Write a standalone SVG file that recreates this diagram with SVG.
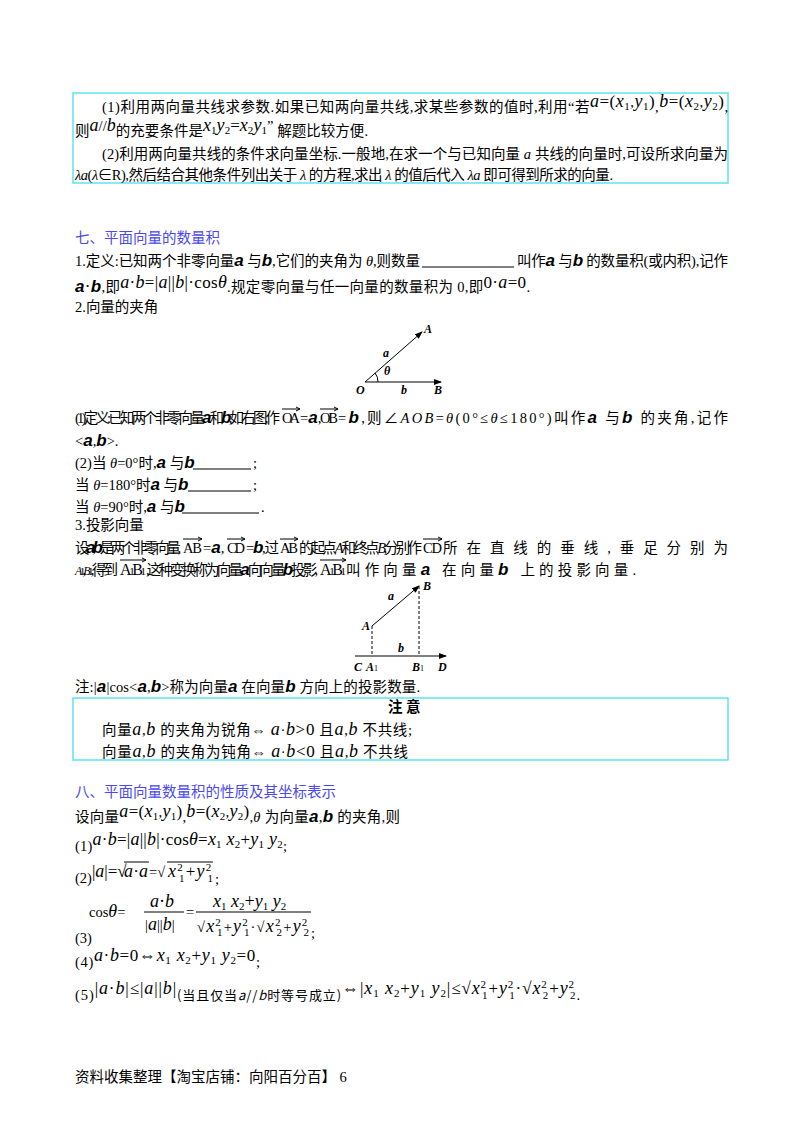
<svg xmlns="http://www.w3.org/2000/svg" width="800" height="1132" viewBox="0 0 800 1132">
<defs>
<marker id="ar" markerWidth="8" markerHeight="6" refX="7" refY="3" orient="auto" markerUnits="userSpaceOnUse"><path d="M0,0 L8,3 L0,6 Z" fill="#000"/></marker>
</defs>
<style>
text{font-family:"Liberation Serif","Noto Sans CJK SC",serif;font-size:14.5px;fill:#000}
.h{font-family:"Noto Sans CJK SC",sans-serif;font-size:14.5px;fill:#4a4af0}
.m{font-family:"Liberation Serif",serif;font-style:italic;font-size:18px}
.v{font-family:"Liberation Sans",sans-serif;font-style:italic;font-weight:bold;font-size:17px}
.s{font-size:11px}
.box{fill:none;stroke:#5fe3ee;stroke-width:1.5}
.ln{stroke:#000;stroke-width:1}
.fl{font-family:"Liberation Serif",serif;font-style:italic;font-weight:bold;font-size:12px}
.va{stroke:#000;fill:none;stroke-width:1}
</style>
<rect class="box" x="73" y="93" width="655" height="90"/>
<text x="102" y="112" textLength="626">(1)利用两向量共线求参数.如果已知两向量共线,求某些参数的值时,利用“若<tspan class="m" dy="-5">a</tspan><tspan font-size="17">=(</tspan><tspan class="m">x</tspan><tspan class="s" dy="3">1</tspan><tspan dy="-3">,</tspan><tspan class="m">y</tspan><tspan class="s" dy="3">1</tspan><tspan dy="-3" font-size="17">)</tspan><tspan dy="5">,</tspan><tspan class="m" dy="-5">b</tspan><tspan font-size="17">=(</tspan><tspan class="m">x</tspan><tspan class="s" dy="3">2</tspan><tspan dy="-3">,</tspan><tspan class="m">y</tspan><tspan class="s" dy="3">2</tspan><tspan dy="-3" font-size="17">)</tspan><tspan dy="5">,</tspan></text>
<text x="75" y="136" textLength="293">则<tspan class="m" dy="-5">a</tspan><tspan>//</tspan><tspan class="m">b</tspan><tspan dy="5">的充要条件是</tspan><tspan class="m" dy="-5">x</tspan><tspan class="s" dy="3">1</tspan><tspan class="m" dy="-3">y</tspan><tspan class="s" dy="3">2</tspan><tspan dy="-3" font-size="17">=</tspan><tspan class="m">x</tspan><tspan class="s" dy="3">2</tspan><tspan class="m" dy="-3">y</tspan><tspan class="s" dy="3">1</tspan><tspan dy="-3">”</tspan><tspan dy="5"> 解题比较方便.</tspan></text>
<text x="102" y="159" textLength="626">(2)利用两向量共线的条件求向量坐标.一般地,在求一个与已知向量 <tspan font-style="italic">a</tspan> 共线的向量时,可设所求向量为</text>
<text x="75" y="180" textLength="538"><tspan font-style="italic">λa</tspan>(<tspan font-style="italic">λ</tspan>∈R),然后结合其他条件列出关于 <tspan font-style="italic">λ</tspan> 的方程,求出 <tspan font-style="italic">λ</tspan> 的值后代入 <tspan font-style="italic">λa</tspan> 即可得到所求的向量.</text>

<text class="h" x="75" y="243">七、平面向量的数量积</text>
<text x="75" y="266" textLength="345">1.定义:已知两个非零向量<tspan class="v">a</tspan> 与<tspan class="v">b</tspan>,它们的夹角为 <tspan font-style="italic">θ</tspan>,则数量</text>
<line class="ln" x1="422" y1="267" x2="514" y2="267"/>
<text x="517" y="266" textLength="211">叫作<tspan class="v">a</tspan> 与<tspan class="v">b</tspan> 的数量积(或内积),记作</text>
<text x="75" y="292" textLength="455"><tspan class="v">a</tspan><tspan font-size="17">·</tspan><tspan class="v">b</tspan>,即<tspan class="m" dy="-4">a</tspan><tspan font-size="17">·</tspan><tspan class="m">b</tspan><tspan font-size="17">=|</tspan><tspan class="m">a</tspan><tspan font-size="17">||</tspan><tspan class="m">b</tspan><tspan font-size="17">|·cos</tspan><tspan class="m">θ</tspan><tspan dy="4">.规定零向量与任一向量的数量积为 0,即</tspan><tspan font-size="17" dy="-4">0·</tspan><tspan class="m">a</tspan><tspan font-size="17">=0</tspan><tspan dy="4">.</tspan></text>
<text x="75" y="312">2.向量的夹角</text>

<g id="fig1">
<line class="ln" x1="365" y1="382" x2="422" y2="332" marker-end="url(#ar)"/>
<line class="ln" x1="365" y1="382" x2="441" y2="382" marker-end="url(#ar)"/>
<path d="M378,382 A13,13 0 0 0 375,373" fill="none" stroke="#000"/>
<text class="fl" x="424" y="333">A</text>
<text class="fl" x="434" y="394">B</text>
<text class="fl" x="356" y="394">O</text>
<text class="fl" x="383" y="357">a</text>
<text class="fl" x="401" y="394">b</text>
<text class="fl" x="384" y="375" font-size="11">θ</text>
</g>

<text x="75" y="423" textLength="205">(1)定义:已知两个非零向量<tspan class="v">a</tspan> 和<tspan class="v">b</tspan>,如右图,作</text>
<text x="282" y="423" font-size="16" textLength="18">OA</text>
<text x="300" y="423">=<tspan class="v">a</tspan>,</text>
<text x="320" y="423" font-size="16" textLength="18">OB</text>
<text x="338" y="423" textLength="390">=<tspan class="v">b</tspan>,则∠<tspan font-style="italic">AOB</tspan>=<tspan font-style="italic">θ</tspan>(0°≤<tspan font-style="italic">θ</tspan>≤180°)叫作<tspan class="v">a</tspan> 与<tspan class="v">b</tspan> 的夹角,记作</text>
<path class="va" d="M282,409 H300 M296,407 L300,409 L296,411 M320,409 H338 M334,407 L338,409 L334,411"/>
<text x="75" y="446">&lt;<tspan class="v">a</tspan>,<tspan class="v">b</tspan>&gt;.</text>
<text x="75" y="468">(2)当 <tspan font-style="italic">θ</tspan>=0°时,<tspan class="v">a</tspan> 与<tspan class="v">b</tspan></text>
<line class="ln" x1="193" y1="469" x2="251" y2="469"/><text x="253" y="468">;</text>
<text x="75" y="490">当 <tspan font-style="italic">θ</tspan>=180°时<tspan class="v">a</tspan> 与<tspan class="v">b</tspan></text>
<line class="ln" x1="188" y1="491" x2="251" y2="491"/><text x="253" y="490">;</text>
<text x="75" y="512">当 <tspan font-style="italic">θ</tspan>=90°时,<tspan class="v">a</tspan> 与<tspan class="v">b</tspan></text>
<line class="ln" x1="182" y1="513" x2="259" y2="513"/><text x="261" y="512">.</text>
<text x="75" y="530">3.投影向量</text>
<text x="75" y="553" textLength="106">设<tspan class="v">a</tspan>,<tspan class="v">b</tspan> 是两个非零向量,</text>
<text x="183" y="553" font-size="16" textLength="19">AB</text>
<text x="203" y="553">=<tspan class="v">a</tspan>,</text>
<text x="227" y="553" font-size="16" textLength="18">CD</text>
<text x="246" y="553" textLength="33">=<tspan class="v">b</tspan>,过</text>
<text x="280" y="553" font-size="16" textLength="18">AB</text>
<text x="299" y="553" textLength="123">的起点 <tspan font-style="italic">A</tspan> 和终点 <tspan font-style="italic">B</tspan>,分别作</text>
<text x="423" y="553" font-size="16" textLength="19">CD</text>
<text x="443" y="553" textLength="285">所在直线的垂线,垂足分别为</text>
<path class="va" d="M183,539 H202 M198,537 L202,539 L198,541 M227,539 H245 M241,537 L245,539 L241,541 M280,539 H298 M294,537 L298,539 L294,541 M423,539 H442 M438,537 L442,539 L438,541"/>
<text x="75" y="575" textLength="43"><tspan font-style="italic" font-size="12">A</tspan><tspan class="s">1</tspan>,<tspan font-style="italic" font-size="12">B</tspan><tspan class="s">1</tspan>,得到</text>
<text x="120" y="575" textLength="26"><tspan font-size="16">A</tspan><tspan class="s">1</tspan><tspan font-size="16">B</tspan><tspan class="s">1</tspan></text>
<text x="146" y="575" textLength="172">,这种变换称为向量<tspan class="v">a</tspan> 向向量<tspan class="v">b</tspan> 投影,</text>
<text x="320" y="575" textLength="26"><tspan font-size="16">A</tspan><tspan class="s">1</tspan><tspan font-size="16">B</tspan><tspan class="s">1</tspan></text>
<text x="346" y="575" textLength="290">叫作向量<tspan class="v">a</tspan> 在向量<tspan class="v">b</tspan> 上的投影向量.</text>
<path class="va" d="M120,560 H146 M142,558 L146,560 L142,562 M320,560 H346 M342,558 L346,560 L342,562"/>

<g id="fig2">
<line class="ln" x1="355" y1="656" x2="446" y2="656" marker-end="url(#ar)"/>
<line class="ln" x1="372" y1="626" x2="419" y2="586" marker-end="url(#ar)"/>
<line class="ln" x1="372" y1="626" x2="372" y2="656" stroke-dasharray="3,2"/>
<line class="ln" x1="419" y1="586" x2="419" y2="656" stroke-dasharray="3,2"/>
<text class="fl" x="362" y="630">A</text>
<text class="fl" x="423" y="590">B</text>
<text class="fl" x="388" y="600">a</text>
<text class="fl" x="398" y="652">b</text>
<text class="fl" x="354" y="671">C</text>
<text class="fl" x="366" y="671">A<tspan font-size="8" font-weight="normal" font-style="normal">1</tspan></text>
<text class="fl" x="412" y="671">B<tspan font-size="8" font-weight="normal" font-style="normal">1</tspan></text>
<text class="fl" x="438" y="671">D</text>
</g>

<text x="75" y="692" textLength="345">注:|<tspan class="v">a</tspan>|cos&lt;<tspan class="v">a</tspan>,<tspan class="v">b</tspan>&gt;称为向量<tspan class="v">a</tspan> 在向量<tspan class="v">b</tspan> 方向上的投影数量.</text>
<rect class="box" x="73" y="698" width="655" height="62"/>
<text x="388" y="712" font-size="10" font-weight="bold">注 意</text>
<text x="102" y="735" font-family="Noto Sans CJK SC,sans-serif" textLength="310">向量<tspan class="m">a</tspan>,<tspan class="m">b</tspan> 的夹角为锐角⇔ <tspan class="m">a</tspan>·<tspan class="m">b</tspan><tspan font-size="17">&gt;0</tspan> 且<tspan class="m">a</tspan>,<tspan class="m">b</tspan> 不共线;</text>
<text x="102" y="757" font-family="Noto Sans CJK SC,sans-serif" textLength="306">向量<tspan class="m">a</tspan>,<tspan class="m">b</tspan> 的夹角为钝角⇔ <tspan class="m">a</tspan>·<tspan class="m">b</tspan><tspan font-size="17">&lt;0</tspan> 且<tspan class="m">a</tspan>,<tspan class="m">b</tspan> 不共线</text>

<text class="h" x="75" y="797">八、平面向量数量积的性质及其坐标表示</text>
<text x="75" y="822" textLength="325">设向量<tspan class="m" dy="-5">a</tspan><tspan font-size="17">=(</tspan><tspan class="m">x</tspan><tspan class="s" dy="3">1</tspan><tspan dy="-3">,</tspan><tspan class="m">y</tspan><tspan class="s" dy="3">1</tspan><tspan dy="-3" font-size="17">)</tspan><tspan dy="5">,</tspan><tspan class="m" dy="-5">b</tspan><tspan font-size="17">=(</tspan><tspan class="m">x</tspan><tspan class="s" dy="3">2</tspan><tspan dy="-3">,</tspan><tspan class="m">y</tspan><tspan class="s" dy="3">2</tspan><tspan dy="-3" font-size="17">)</tspan><tspan dy="5">,<tspan font-style="italic">θ</tspan> 为向量</tspan><tspan class="v">a</tspan>,<tspan class="v">b</tspan> 的夹角,则</text>
<text x="75" y="851" textLength="212">(1)<tspan class="m" dy="-6">a</tspan><tspan font-size="17">·</tspan><tspan class="m">b</tspan><tspan font-size="17">=|</tspan><tspan class="m">a</tspan><tspan font-size="17">||</tspan><tspan class="m">b</tspan><tspan font-size="17">|·cos</tspan><tspan class="m">θ</tspan><tspan font-size="17">=</tspan><tspan class="m">x</tspan><tspan class="s" dy="3">1</tspan><tspan class="m" dy="-3"> x</tspan><tspan class="s" dy="3">2</tspan><tspan font-size="17" dy="-3">+</tspan><tspan class="m">y</tspan><tspan class="s" dy="3">1</tspan><tspan class="m" dy="-3"> y</tspan><tspan class="s" dy="3">2</tspan><tspan dy="3">;</tspan></text>
<g id="f2">
<text x="75" y="883">(2)<tspan font-size="17" dy="-6">|</tspan><tspan class="m">a</tspan><tspan font-size="17">|=√</tspan></text>
<text x="124" y="877" textLength="24"><tspan class="m">a</tspan><tspan font-size="17">·</tspan><tspan class="m">a</tspan></text>
<text x="149" y="877" font-size="17">=√</text>
<text x="168" y="877" textLength="45"><tspan class="m">x</tspan><tspan class="s" dy="-6">2</tspan><tspan class="s" dx="-5" dy="11">1</tspan><tspan font-size="17" dy="-5">+</tspan><tspan class="m">y</tspan><tspan class="s" dy="-6">2</tspan><tspan class="s" dx="-5" dy="11">1</tspan></text>
<text x="215" y="884">;</text>
<path d="M124,862 H149 M167,862 H213" stroke="#000" fill="none"/>
</g>
<g id="f3">
<text x="89" y="917" font-size="17">cos<tspan class="m">θ</tspan>=</text>
<text x="150" y="907" class="m">a<tspan font-style="normal">·</tspan>b</text>
<line class="ln" x1="144" y1="912" x2="184" y2="912"/>
<text x="145" y="930" font-size="17">|<tspan class="m">a</tspan>||<tspan class="m">b</tspan>|</text>
<text x="186" y="917" font-size="17">=</text>
<text x="213" y="907" class="m">x<tspan class="s" font-style="normal" dy="3">1</tspan><tspan dy="-3"> x</tspan><tspan class="s" font-style="normal" dy="3">2</tspan><tspan font-style="normal" dy="-3">+</tspan>y<tspan class="s" font-style="normal" dy="3">1</tspan><tspan dy="-3"> y</tspan><tspan class="s" font-style="normal" dy="3">2</tspan></text>
<line class="ln" x1="196" y1="912" x2="311" y2="912"/>
<text x="197" y="932" font-size="17" textLength="112">√<tspan class="m">x</tspan><tspan class="s" dy="-6">2</tspan><tspan class="s" dx="-5" dy="10">1</tspan><tspan dy="-4">+</tspan><tspan class="m">y</tspan><tspan class="s" dy="-6">2</tspan><tspan class="s" dx="-5" dy="10">1</tspan><tspan dy="-4">·√</tspan><tspan class="m">x</tspan><tspan class="s" dy="-6">2</tspan><tspan class="s" dx="-5" dy="10">2</tspan><tspan dy="-4">+</tspan><tspan class="m">y</tspan><tspan class="s" dy="-6">2</tspan><tspan class="s" dx="-5" dy="10">2</tspan></text>
<text x="311" y="938">;</text>
<text x="75" y="943">(3)</text>
</g>
<text x="75" y="967" textLength="185">(4)<tspan class="m" dy="-6">a</tspan><tspan font-size="17">·</tspan><tspan class="m">b</tspan><tspan font-size="17">=0⇔</tspan><tspan class="m">x</tspan><tspan class="s" dy="3">1</tspan><tspan class="m" dy="-3"> x</tspan><tspan class="s" dy="3">2</tspan><tspan font-size="17" dy="-3">+</tspan><tspan class="m">y</tspan><tspan class="s" dy="3">1</tspan><tspan class="m" dy="-3"> y</tspan><tspan class="s" dy="3">2</tspan><tspan font-size="17" dy="-3">=0</tspan><tspan dy="6">;</tspan></text>
<text x="75" y="1000" textLength="505">(5)<tspan font-size="17" dy="-6">|</tspan><tspan class="m">a</tspan><tspan font-size="17">·</tspan><tspan class="m">b</tspan><tspan font-size="17">|≤|</tspan><tspan class="m">a</tspan><tspan font-size="17">||</tspan><tspan class="m">b</tspan><tspan font-size="17">|</tspan><tspan dy="6" font-size="13" font-family="Noto Sans CJK SC,sans-serif">(当且仅当<tspan font-style="italic">a</tspan>//<tspan font-style="italic">b</tspan>时等号成立)</tspan><tspan font-size="17" dy="-6">⇔|</tspan><tspan class="m">x</tspan><tspan class="s" dy="3">1</tspan><tspan class="m" dy="-3"> x</tspan><tspan class="s" dy="3">2</tspan><tspan font-size="17" dy="-3">+</tspan><tspan class="m">y</tspan><tspan class="s" dy="3">1</tspan><tspan class="m" dy="-3"> y</tspan><tspan class="s" dy="3">2</tspan><tspan font-size="17" dy="-3">|≤√</tspan><tspan class="m">x</tspan><tspan class="s" dy="-6">2</tspan><tspan class="s" dx="-5" dy="11">1</tspan><tspan font-size="17" dy="-5">+</tspan><tspan class="m">y</tspan><tspan class="s" dy="-6">2</tspan><tspan class="s" dx="-5" dy="11">1</tspan><tspan font-size="17" dy="-5">·√</tspan><tspan class="m">x</tspan><tspan class="s" dy="-6">2</tspan><tspan class="s" dx="-5" dy="11">2</tspan><tspan font-size="17" dy="-5">+</tspan><tspan class="m">y</tspan><tspan class="s" dy="-6">2</tspan><tspan class="s" dx="-5" dy="11">2</tspan><tspan dy="1">.</tspan></text>
<text x="75" y="1082" font-family="Noto Sans CJK SC,sans-serif" font-size="12">资料收集整理【淘宝店铺：向阳百分百】  6</text>
</svg>
